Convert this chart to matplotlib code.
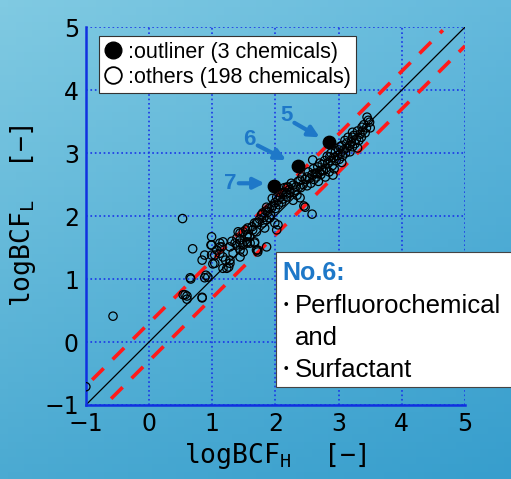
import numpy as np
import matplotlib
matplotlib.use("Agg")
from matplotlib import pyplot as plt
from matplotlib.lines import Line2D
from matplotlib.patches import Rectangle

# outliers (No.5, No.6, No.7)
out_x = [2.84, 2.35, 1.97]
out_y = [3.17, 2.79, 2.48]
out_names = ['5', '6', '7']

# other chemicals (logBCF_H, logBCF_L)
others = [
    (-1.00, -0.71), (-0.57, 0.41), (0.53, 1.96), (2.58, 2.03), (2.45, 2.16), (2.91, 2.65),
    (0.66, 1.00), (0.54, 0.75), (0.60, 0.73), (0.60, 0.68), (0.84, 0.70), (0.90, 1.06),
    (0.93, 1.03), (0.84, 1.30), (1.01, 1.24), (0.69, 1.48), (0.65, 1.02), (0.88, 1.02),
    (0.57, 0.75), (0.84, 0.71),
    (0.99, 1.54), (1.12, 1.51), (1.17, 1.35), (1.28, 1.30), (1.26, 1.19), (1.33, 1.41),
    (1.44, 1.46), (1.55, 1.57), (1.67, 1.57), (1.72, 1.43), (1.86, 1.51),
    (0.99, 1.67), (0.98, 1.54), (1.12, 1.57), (1.17, 1.59), (1.31, 1.60), (1.44, 1.73),
    (1.53, 1.78), (1.56, 1.71), (1.64, 1.78), (1.70, 1.89), (1.39, 1.54), (1.44, 1.57),
    (1.49, 1.54), (1.55, 1.59), (1.60, 1.57), (1.67, 1.59), (1.70, 1.46), (1.12, 1.41),
    (0.99, 1.38), (1.04, 1.38), (0.88, 1.38), (1.04, 1.25), (1.21, 1.30), (1.28, 1.25),
    (1.23, 1.17), (1.17, 1.17), (1.44, 1.35), (1.49, 1.43),
    (1.15, 1.51), (1.07, 1.46), (1.28, 1.51), (1.36, 1.57), (1.44, 1.62), (1.41, 1.75),
    (1.49, 1.75), (1.55, 1.67), (1.56, 1.81), (1.63, 1.83), (1.67, 1.89), (1.72, 1.90),
    (1.70, 1.75), (1.72, 1.46), (1.80, 1.89), (1.86, 1.94), (1.91, 1.97), (1.88, 2.06),
    (1.94, 2.13), (1.96, 2.17), (1.99, 2.21), (2.02, 2.30), (2.04, 2.25), (2.07, 2.37),
    (2.10, 2.22), (2.15, 2.38), (2.18, 2.30), (2.20, 2.46), (2.23, 2.37), (2.28, 2.25),
    (2.31, 2.41), (2.34, 2.33), (2.39, 2.29), (2.47, 2.14), (2.02, 1.78), (2.04, 1.86),
    (1.99, 1.89), (1.83, 1.81), (1.59, 1.67), (1.39, 1.65),
    (3.45, 3.57), (3.49, 3.49), (3.37, 3.41), (3.22, 3.33), (2.59, 2.89), (3.30, 3.08),
    (3.22, 3.25), (3.13, 3.16), (3.02, 3.10), (2.86, 2.94), (2.70, 2.84), (2.73, 2.73),
    (2.66, 2.68), (2.50, 2.62), (2.39, 2.57), (2.28, 2.49), (2.18, 2.46), (2.12, 2.37),
    (1.86, 2.14), (1.80, 2.05),
    (2.25, 2.52), (2.30, 2.38), (2.33, 2.47), (2.36, 2.55), (2.40, 2.45), (2.42, 2.62),
    (2.44, 2.50), (2.47, 2.58), (2.50, 2.48), (2.52, 2.70), (2.54, 2.60), (2.56, 2.52),
    (2.58, 2.66), (2.60, 2.75), (2.61, 2.58), (2.63, 2.68), (2.65, 2.62), (2.67, 2.78),
    (2.68, 2.55), (2.70, 2.70), (2.72, 2.66), (2.74, 2.82), (2.76, 2.72), (2.78, 2.88),
    (2.79, 2.62), (2.80, 2.76), (2.82, 2.95), (2.83, 2.84), (2.85, 2.70), (2.87, 2.88),
    (2.88, 3.00), (2.90, 2.80), (2.92, 2.93), (2.93, 2.75), (2.95, 3.02), (2.96, 2.88),
    (2.98, 2.96), (3.00, 3.05), (3.01, 2.90), (3.03, 3.00), (3.05, 3.12), (3.06, 2.95),
    (3.08, 3.05), (3.10, 3.20), (3.11, 3.00), (3.13, 3.08), (3.15, 3.25), (3.17, 3.12),
    (3.18, 3.02), (3.20, 3.18), (3.22, 3.10), (3.24, 3.28), (3.26, 3.15), (3.28, 3.22),
    (3.30, 3.35), (3.32, 3.20), (3.34, 3.30), (3.36, 3.25), (3.38, 3.35), (3.40, 3.45),
    (3.42, 3.32), (3.44, 3.40), (3.47, 3.52), (3.50, 3.40), (3.05, 2.85),
    (1.75, 1.95), (1.78, 2.02), (1.82, 1.98), (1.85, 2.08), (1.90, 2.12), (1.92, 2.02),
    (1.95, 2.28), (2.00, 2.12), (2.05, 2.18), (2.08, 2.30), (2.12, 2.27), (2.14, 2.45),
    (2.17, 2.35), (2.22, 2.42),
]
oth_x = [p[0] for p in others]
oth_y = [p[1] for p in others]

ticks = [-1, 0, 1, 2, 3, 4, 5]
band = 0.3  # factor of 2

blue_txt = '#1e78c8'
grid_blue = '#1a35e8'

fig = plt.figure(figsize=(5.11, 4.79), dpi=100)

# blue gradient background
bg = fig.add_axes([0, 0, 1, 1], zorder=-10)
gx, gy = np.meshgrid(np.linspace(0, 1, 64), np.linspace(0, 1, 64))
tl = np.array([128, 202, 226]) / 255
tr = np.array([100, 185, 220]) / 255
bl = np.array([75, 170, 210]) / 255
br = np.array([55, 158, 205]) / 255
img = ((1 - gx)[..., None] * (1 - gy)[..., None] * tl + gx[..., None] * (1 - gy)[..., None] * tr
       + (1 - gx)[..., None] * gy[..., None] * bl + gx[..., None] * gy[..., None] * br)
bg.imshow(img, aspect='auto', extent=[0, 1, 0, 1], origin='upper')
bg.axis('off')

ax = fig.add_axes([0.168, 0.1545, 0.742, 0.789])
ax.patch.set_alpha(0)
ax.set_xlim(-1, 5)
ax.set_ylim(-1, 5)
ax.set_xticks(ticks)
ax.set_yticks(ticks)
tick_font = ['Liberation Sans Narrow', 'DejaVu Sans']
ax.set_xticklabels(['\u22121' if t < 0 else str(t) for t in ticks], family=tick_font, fontsize=17)
ax.set_yticklabels(['\u22121' if t < 0 else str(t) for t in ticks], family=tick_font, fontsize=17)
ax.tick_params(length=0, pad=5)
ax.grid(True, color=grid_blue, linestyle=':', linewidth=1.2)
for s in ['top', 'right']:
    ax.spines[s].set_visible(False)
for s in ['left', 'bottom']:
    ax.spines[s].set_color('#1030e0')
    ax.spines[s].set_linewidth(1.8)

# 1:1 line and factor-of-2 band
ax.plot([-1, 5], [-1, 5], color='black', linewidth=0.9, zorder=2)
ax.plot([-0.9, 4.65], [-0.9 + band, 4.65 + band], color='#ff1a1a', linewidth=2.6,
        dashes=(4.5, 3.5), zorder=3)
ax.plot([-0.6, 5.0], [-0.6 - band, 5.0 - band], color='#ff1a1a', linewidth=2.6,
        dashes=(4.5, 3.5), zorder=3)

ax.scatter(oth_x, oth_y, s=36, facecolors='none', edgecolors='black', linewidths=0.9, zorder=4)
ax.scatter(out_x, out_y, s=80, color='black', zorder=5)

# labels for outliers
lbl_pos = [(2.18, 3.60), (1.58, 3.21), (1.28, 2.52)]
arr_from = [(2.30, 3.48), (1.72, 3.12), (1.42, 2.52)]
arr_to = [(2.70, 3.25), (2.17, 2.89), (1.83, 2.52)]
for name, lp, a0, a1 in zip(out_names, lbl_pos, arr_from, arr_to):
    ax.text(lp[0], lp[1], name, color=blue_txt, fontsize=16, fontweight='bold',
            family='Liberation Sans', ha='center', va='center')
    ax.annotate('', xy=a1, xytext=a0,
                arrowprops=dict(arrowstyle='-|>', color=blue_txt, lw=3, mutation_scale=16,
                                shrinkA=0, shrinkB=0))

ax.set_xlabel('logBCF$_\\mathregular{H}$  [\u2212]', family='DejaVu Sans Mono', fontsize=19)
ax.set_ylabel('logBCF$_\\mathregular{L}$  [\u2212]', family='DejaVu Sans Mono', fontsize=19)
ax.xaxis.set_label_coords(0.5, -0.095)
ax.yaxis.set_label_coords(-0.125, 0.5)

handles = [Line2D([], [], linestyle='none', marker='o', markersize=12, color='black'),
           Line2D([], [], linestyle='none', marker='o', markersize=12, markerfacecolor='none',
                  markeredgecolor='black', markeredgewidth=1.3)]
leg = ax.legend(handles, [':outliner (3 chemicals)', ':others (198 chemicals)'],
                loc='upper left', bbox_to_anchor=(0.035, 0.976), frameon=True, fancybox=False,
                prop={'family': 'Liberation Sans', 'size': 15.5}, handlelength=0.8,
                handletextpad=0.3, borderpad=0.25, labelspacing=0.2, borderaxespad=0)
leg.get_frame().set_edgecolor('#333333')
leg.get_frame().set_linewidth(0.8)
leg.get_frame().set_alpha(1)

# note box on the right
fig.patches.append(Rectangle((276 / 511, 1 - 387 / 479), 0.5, 135 / 479,
                             transform=fig.transFigure, facecolor='white',
                             edgecolor='#444444', linewidth=0.8, zorder=20))
cjk = ['Noto Sans CJK JP']
fig.text(282 / 511, 1 - 280 / 479, 'No.6:', color=blue_txt, fontsize=18, fontweight='bold',
         family='Liberation Sans', va='baseline', zorder=21)
for label, base in [('Perfluorochemical', 313), ('Surfactant', 377)]:
    fig.text(286 / 511, 1 - (base - 8) / 479, '\u30fb', fontsize=10.5, fontweight='bold',
             family=cjk, ha='center', va='center', zorder=21)
    fig.text(295 / 511, 1 - base / 479, label, fontsize=18.5, family='Liberation Sans',
             va='baseline', zorder=21)
fig.text(295 / 511, 1 - 345 / 479, 'and', fontsize=18.5, family='Liberation Sans',
         va='baseline', zorder=21)

fig.savefig('out.png', dpi=100)
